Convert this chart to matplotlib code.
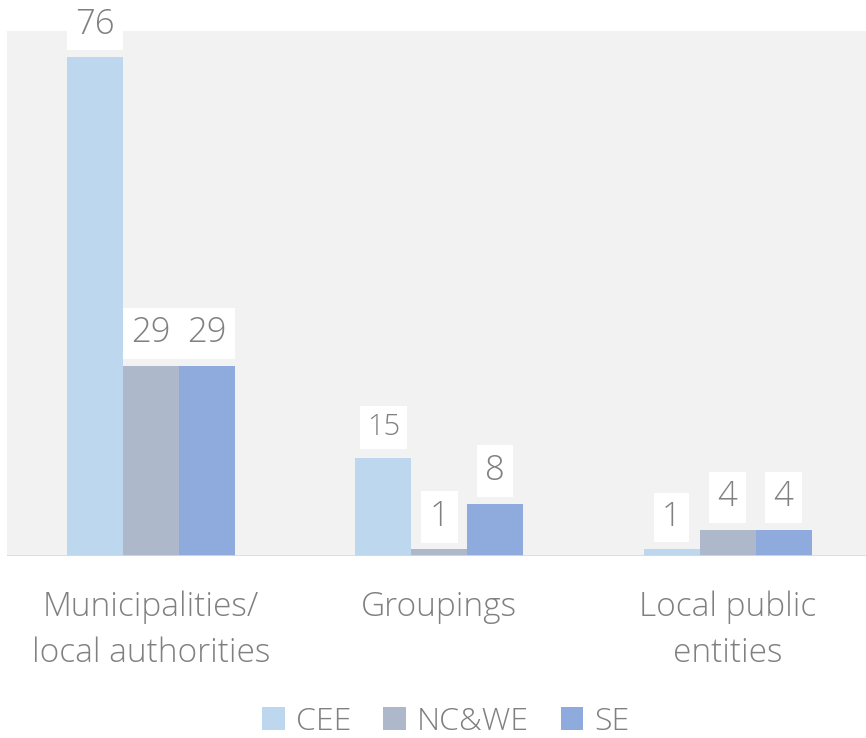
import matplotlib
matplotlib.use("Agg")
import matplotlib.pyplot as plt
import numpy as np
from matplotlib.patches import Patch

categories = ["Municipalities/\nlocal authorities", "Groupings", "Local public\nentities"]
series_names = ["CEE", "NC&WE", "SE"]
cee = [76, 15, 1]
ncwe = [29, 1, 4]
se = [29, 8, 4]
colors = ["#bdd7ee", "#adb9ca", "#8faadc"]
label_sizes = [[25, 21, 24], [25, 25, 25], [25, 25, 25]]

plt.rcParams['font.family'] = ['Open Sans', 'DejaVu Sans']
txt_color = "#808080"
W = "light"

fig = plt.figure(figsize=(8.66, 7.38), dpi=100)
ax = fig.add_axes([0.008, 0.2466, 0.992, 0.7114])
ax.set_facecolor("#f2f2f2")

x = np.arange(len(categories))
w = 0.194
all_series = [cee, ncwe, se]
for i, (vals, c) in enumerate(zip(all_series, colors)):
    pos = x + (i - 1) * w
    ax.bar(pos, vals, width=w, color=c, label=series_names[i], zorder=2)
    for j, (px, v) in enumerate(zip(pos, vals)):
        ax.annotate(str(v), xy=(px, v), xytext=(0, 11), textcoords="offset points",
                    ha="center", va="bottom", fontsize=label_sizes[i][j],
                    color=txt_color, fontweight=W, clip_on=False, zorder=5,
                    bbox=dict(boxstyle="square,pad=0.24", fc="white", ec="none"))

ax.set_xlim(-0.5, 2.48)
ax.set_ylim(0, 80)
ax.axhline(0, color="#d9d9d9", lw=1.2, zorder=3)
for s in ax.spines.values():
    s.set_visible(False)
ax.set_yticks([])
ax.set_xticks(x)
ax.set_xticklabels(categories, fontsize=24, color=txt_color, fontweight=W, linespacing=1.5)
ax.tick_params(axis="x", length=0, pad=25)

handles = [Patch(facecolor=c, edgecolor="none") for c in colors]
fig.legend(handles, series_names, loc="center", bbox_to_anchor=(0.515, 0.022),
           ncol=3, frameon=False, labelcolor=txt_color,
           handlelength=0.7, handleheight=0.7, handletextpad=0.35, columnspacing=1.0,
           prop={'weight': W, 'size': 23})

fig.savefig("out.png", dpi=100)
